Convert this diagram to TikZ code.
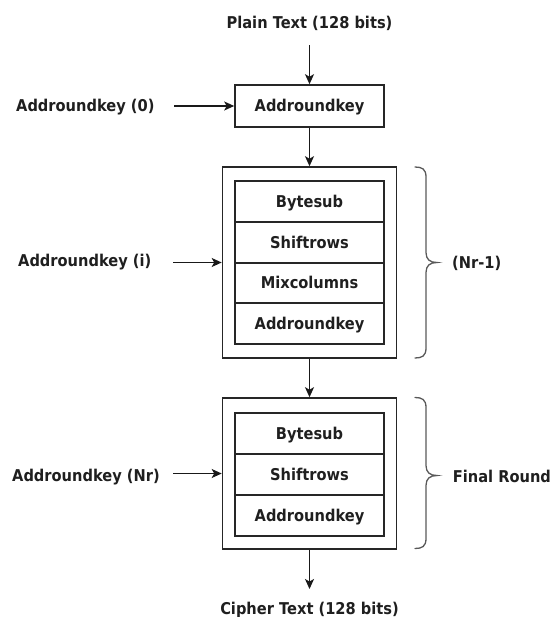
\documentclass[tikz,border=0pt]{standalone}
\usepackage{fontspec}
\newfontfamily\lblfont[FakeStretch=0.9]{DejaVu Sans}
\usetikzlibrary{arrows.meta}
\begin{document}
\begin{tikzpicture}[x=1pt,y=-1pt,
  txt/.style={font={\lblfont\bfseries\fontsize{16.25}{19}\selectfont}, text=black!88,
              inner sep=0pt, text height=11.8pt, text depth=0pt},
  framed/.style={txt, draw=black!85, line width=1.6pt},
  keybox/.style={framed, minimum width=149pt, minimum height=42pt},
  rowbox/.style={framed, minimum width=148.5pt, minimum height=41pt},
  roundbox/.style={draw=black!85, line width=1.6pt, minimum width=174pt, inner sep=0pt},
  arr/.style={draw=black!90, line width=1.4pt, -{Stealth[length=10pt,width=9pt,inset=2.5pt]}},
  bracefig/.style={draw=black!65, line width=1.3pt, line cap=round}]

\useasboundingbox (0,0) rectangle (552,617);

% input and output
\node[txt, anchor=base] (plain) at (309.5,29) {Plain Text (128 bits)};
\node[txt, anchor=base] (cipher) at (309.5,614) {Cipher Text (128 bits)};

% initial key addition
\node[keybox] (k0) at (309.5,106) {Addroundkey};

% main rounds
\node[roundbox, minimum height=191pt] (rmain) at (309.5,262.5) {};
\node[rowbox] (m1) at (309.5,201.5) {Bytesub};
\node[rowbox] (m2) at (309.5,242.5) {Shiftrows};
\node[rowbox, minimum height=40pt] (m3) at (309.5,283) {Mixcolumns};
\node[rowbox, minimum height=41pt] (m4) at (309.5,323.5) {Addroundkey};

% final round
\node[roundbox, minimum height=151pt] (rfinal) at (309.5,473.5) {};
\node[rowbox] (f1) at (309.5,433.5) {Bytesub};
\node[rowbox] (f2) at (309.5,474.5) {Shiftrows};
\node[rowbox] (f3) at (309.5,515.5) {Addroundkey};

% round keys
\node[txt, anchor=base west] (key0) at (16,112) {Addroundkey (0)};
\node[txt, anchor=base west] (keyi) at (18,266) {Addroundkey (i)};
\node[txt, anchor=base west] (keyn) at (12,481) {Addroundkey (Nr)};
\coordinate (s0) at (174,106);
\coordinate (si) at (173,262.5);
\coordinate (sn) at (173,473.5);

% round labels
\node[txt, anchor=base west] (lmain) at (452,268) {(Nr-1)};
\node[txt, anchor=base west] (lfinal) at (452.7,482) {Final Round};

% data flow
\draw[arr, shorten <=16pt] (plain.south) -- (k0.north);
\draw[arr] (k0.south) -- (rmain.north);
\draw[arr] (rmain.south) -- (rfinal.north);
\draw[arr, shorten >=13pt] (rfinal.south) -- (cipher.north);

% key inputs
\draw[arr] (s0) -- (k0.west);
\draw[arr] (si) -- (rmain.west);
\draw[arr] (sn) -- (rfinal.west);

% braces
\draw[bracefig] (415,167) .. controls (422,167) and (426,169) .. (426,177)
  -- (426,252.5) .. controls (426,259.5) and (430,262.5) .. (437,262.5)
  .. controls (430,262.5) and (426,265.5) .. (426,272.5)
  -- (426,348) .. controls (426,356) and (422,358) .. (415,358);
\draw[bracefig] (415,397.5) .. controls (422,397.5) and (426,399.5) .. (426,407.5)
  -- (426,465.5) .. controls (426,472.5) and (430,475.5) .. (437,475.5)
  .. controls (430,475.5) and (426,478.5) .. (426,485.5)
  -- (426,538.5) .. controls (426,546.5) and (422,548.5) .. (415,548.5);
\end{tikzpicture}
\end{document}
